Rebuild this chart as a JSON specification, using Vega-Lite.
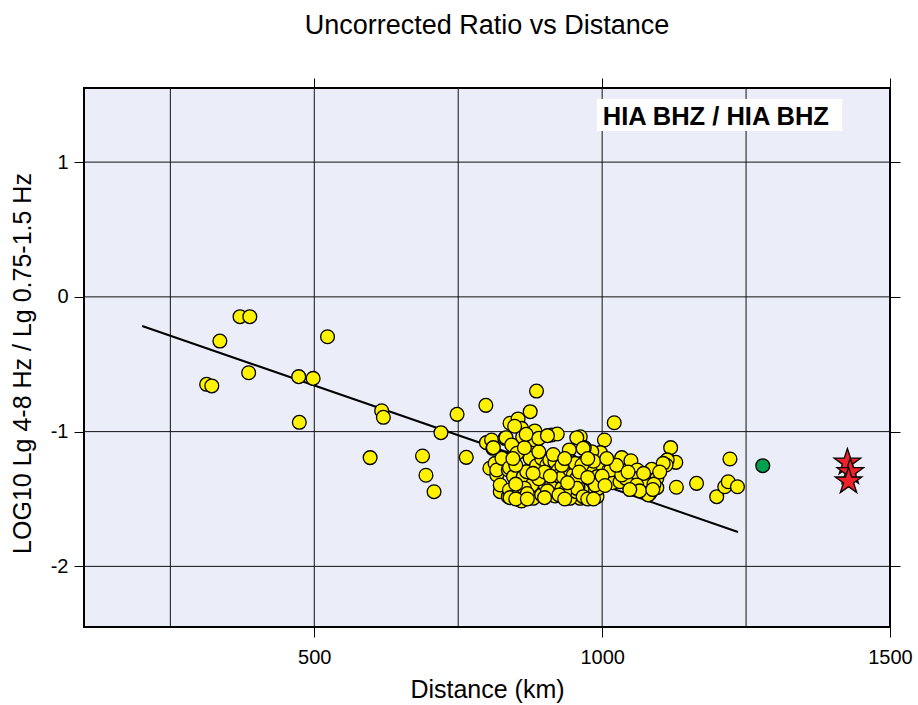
{
  "$schema": "https://vega.github.io/schema/vega-lite/v6.json",
  "width": 806,
  "height": 539,
  "autosize": "none",
  "padding": {"left": 84, "top": 88, "right": 28, "bottom": 78},
  "background": "white",
  "config": {
    "font": "Liberation Sans",
    "view": {"fill": "#EBEEF8", "stroke": "black", "strokeWidth": 2},
    "axis": {"domain": false, "grid": false, "tickColor": "black", "tickWidth": 1, "tickSize": 10, "labelColor": "black", "titleColor": "black", "labelFont": "Liberation Sans", "titleFont": "Liberation Sans", "titleFontWeight": "normal", "labelFontSize": 20, "titleFontSize": 25, "labelExpr": "'' + datum.value"}
  },
  "title": {"text": "Uncorrected Ratio vs Distance", "fontSize": 27, "fontWeight": "normal", "font": "Liberation Sans", "color": "black", "anchor": "middle", "baseline": "alphabetic", "offset": 17},
  "datasets": {
    "gx": [{"v": 250}, {"v": 500}, {"v": 750}, {"v": 1000}, {"v": 1250}],
    "gy": [{"v": -2}, {"v": -1}, {"v": 0}, {"v": 1}],
    "fit": [{"d": 201, "r": -0.216}, {"d": 1236, "r": -1.745}],
    "lab": [{"x1": 991, "x2": 1417, "y1": 1.231, "y2": 1.468, "tx": 1001, "ty": 1.275, "t": "HIA BHZ / HIA BHZ"}],
    "stars": [{"d": 1426, "r": -1.229}, {"d": 1431, "r": -1.30}, {"d": 1428, "r": -1.369}],
    "pts": [
      {"d": 313, "r": -0.649, "g": "y"}, {"d": 322, "r": -0.661, "g": "y"}, {"d": 336, "r": -0.328, "g": "y"}, {"d": 371, "r": -0.147, "g": "y"}, {"d": 388, "r": -0.147, "g": "y"}, {"d": 386, "r": -0.563, "g": "y"}, {"d": 473, "r": -0.592, "g": "y"}, {"d": 474, "r": -0.931, "g": "y"}, {"d": 498, "r": -0.605, "g": "y"}, {"d": 523, "r": -0.296, "g": "y"}, {"d": 597, "r": -1.193, "g": "y"}, {"d": 617, "r": -0.845, "g": "y"}, {"d": 620, "r": -0.894, "g": "y"}, {"d": 688, "r": -1.181, "g": "y"}, {"d": 694, "r": -1.324, "g": "y"}, {"d": 708, "r": -1.446, "g": "y"}, {"d": 720, "r": -1.008, "g": "y"}, {"d": 748, "r": -0.872, "g": "y"}, {"d": 764, "r": -1.191, "g": "y"}, {"d": 798, "r": -0.805, "g": "y"}, {"d": 886, "r": -0.699, "g": "y"},
      {"d": 1021, "r": -0.934, "g": "y"}, {"d": 1119, "r": -1.119, "g": "y"}, {"d": 1128, "r": -1.228, "g": "y"}, {"d": 1113, "r": -1.21, "g": "y"}, {"d": 1111, "r": -1.248, "g": "y"}, {"d": 1106, "r": -1.236, "g": "y"}, {"d": 1222, "r": -1.203, "g": "y"}, {"d": 1129, "r": -1.413, "g": "y"}, {"d": 1164, "r": -1.384, "g": "y"}, {"d": 1199, "r": -1.483, "g": "y"}, {"d": 1213, "r": -1.409, "g": "y"}, {"d": 1219, "r": -1.372, "g": "y"}, {"d": 1235, "r": -1.409, "g": "y"},
      {"d": 1004, "r": -1.062, "g": "y"}, {"d": 1034, "r": -1.193, "g": "y"}, {"d": 1050, "r": -1.216, "g": "y"}, {"d": 1061, "r": -1.285, "g": "y"}, {"d": 1063, "r": -1.347, "g": "y"}, {"d": 1077, "r": -1.36, "g": "y"}, {"d": 1086, "r": -1.28, "g": "y"}, {"d": 1095, "r": -1.347, "g": "y"}, {"d": 1095, "r": -1.416, "g": "y"}, {"d": 1083, "r": -1.458, "g": "y"}, {"d": 1072, "r": -1.31, "g": "y"}, {"d": 1057, "r": -1.409, "g": "y"}, {"d": 1018, "r": -1.379, "g": "y"}, {"d": 1031, "r": -1.372, "g": "y"}, {"d": 1041, "r": -1.347, "g": "y"}, {"d": 997, "r": -1.156, "g": "y"}, {"d": 970, "r": -1.124, "g": "y"}, {"d": 982, "r": -1.149, "g": "y"}, {"d": 982, "r": -1.265, "g": "y"}, {"d": 1002, "r": -1.265, "g": "y"}, {"d": 1012, "r": -1.285, "g": "y"}, {"d": 965, "r": -1.236, "g": "y"}, {"d": 970, "r": -1.384, "g": "y"}, {"d": 979, "r": -1.458, "g": "y"}, {"d": 991, "r": -1.483, "g": "y"}, {"d": 993, "r": -1.421, "g": "y"}, {"d": 965, "r": -1.433, "g": "y"}, {"d": 962, "r": -1.038, "g": "y"}, {"d": 969, "r": -1.119, "g": "y"}, {"d": 1015, "r": -1.285, "g": "y"}, {"d": 1034, "r": -1.322, "g": "y"}, {"d": 1080, "r": -1.47, "g": "y"}, {"d": 1060, "r": -1.396, "g": "y"}, {"d": 991, "r": -1.334, "g": "y"}, {"d": 962, "r": -1.495, "g": "y"}, {"d": 958, "r": -1.409, "g": "y"}, {"d": 988, "r": -1.396, "g": "y"},
      {"d": 799, "r": -1.082, "g": "y"}, {"d": 808, "r": -1.062, "g": "y"}, {"d": 831, "r": -1.05, "g": "y"}, {"d": 810, "r": -1.124, "g": "y"}, {"d": 811, "r": -1.119, "g": "y"}, {"d": 805, "r": -1.272, "g": "y"}, {"d": 814, "r": -1.236, "g": "y"}, {"d": 817, "r": -1.322, "g": "y"}, {"d": 817, "r": -1.285, "g": "y"}, {"d": 823, "r": -1.446, "g": "y"}, {"d": 823, "r": -1.396, "g": "y"}, {"d": 826, "r": -1.198, "g": "y"}, {"d": 833, "r": -1.045, "g": "y"}, {"d": 837, "r": -1.285, "g": "y"}, {"d": 837, "r": -1.483, "g": "y"}, {"d": 839, "r": -1.268, "g": "y"}, {"d": 839, "r": -1.433, "g": "y"}, {"d": 840, "r": -0.938, "g": "y"}, {"d": 840, "r": -1.49, "g": "y"}, {"d": 843, "r": -1.099, "g": "y"}, {"d": 846, "r": -1.334, "g": "y"}, {"d": 852, "r": -1.161, "g": "y"}, {"d": 854, "r": -0.906, "g": "y"}, {"d": 857, "r": -1.446, "g": "y"}, {"d": 857, "r": -1.507, "g": "y"}, {"d": 860, "r": -0.976, "g": "y"}, {"d": 860, "r": -1.515, "g": "y"}, {"d": 862, "r": -1.038, "g": "y"}, {"d": 863, "r": -1.334, "g": "y"}, {"d": 869, "r": -1.297, "g": "y"}, {"d": 875, "r": -0.852, "g": "y"}, {"d": 875, "r": -1.124, "g": "y"}, {"d": 875, "r": -1.198, "g": "y"}, {"d": 878, "r": -1.396, "g": "y"}, {"d": 880, "r": -1.495, "g": "y"}, {"d": 883, "r": -0.995, "g": "y"}, {"d": 883, "r": -1.062, "g": "y"}, {"d": 886, "r": -1.253, "g": "y"}, {"d": 895, "r": -1.198, "g": "y"}, {"d": 895, "r": -1.322, "g": "y"}, {"d": 895, "r": -1.47, "g": "y"}, {"d": 901, "r": -1.396, "g": "y"}, {"d": 904, "r": -1.248, "g": "y"}, {"d": 909, "r": -1.211, "g": "y"}, {"d": 912, "r": -1.025, "g": "y"}, {"d": 912, "r": -1.396, "g": "y"}, {"d": 915, "r": -1.47, "g": "y"}, {"d": 918, "r": -1.223, "g": "y"}, {"d": 918, "r": -1.478, "g": "y"}, {"d": 922, "r": -1.018, "g": "y"}, {"d": 924, "r": -1.285, "g": "y"}, {"d": 924, "r": -1.329, "g": "y"}, {"d": 930, "r": -1.421, "g": "y"}, {"d": 932, "r": -1.334, "g": "y"}, {"d": 943, "r": -1.136, "g": "y"}, {"d": 944, "r": -1.285, "g": "y"}, {"d": 944, "r": -1.446, "g": "y"}, {"d": 944, "r": -1.495, "g": "y"}, {"d": 947, "r": -1.223, "g": "y"}, {"d": 950, "r": -1.322, "g": "y"}, {"d": 953, "r": -1.236, "g": "y"}, {"d": 955, "r": -1.446, "g": "y"}, {"d": 956, "r": -1.045, "g": "y"}, {"d": 956, "r": -1.347, "g": "y"}, {"d": 956, "r": -1.421, "g": "y"}, {"d": 965, "r": -1.248, "g": "y"}, {"d": 967, "r": -1.124, "g": "y"}, {"d": 967, "r": -1.483, "g": "y"},
      {"d": 850, "r": -1.25, "g": "y"}, {"d": 865, "r": -1.42, "g": "y"}, {"d": 890, "r": -1.35, "g": "y"}, {"d": 870, "r": -1.46, "g": "y"}, {"d": 900, "r": -1.3, "g": "y"}, {"d": 930, "r": -1.25, "g": "y"}, {"d": 935, "r": -1.45, "g": "y"}, {"d": 850, "r": -1.39, "g": "y"}, {"d": 905, "r": -1.44, "g": "y"}, {"d": 925, "r": -1.47, "g": "y"}, {"d": 960, "r": -1.3, "g": "y"}, {"d": 975, "r": -1.34, "g": "y"}, {"d": 985, "r": -1.22, "g": "y"}, {"d": 1000, "r": -1.33, "g": "y"}, {"d": 1005, "r": -1.4, "g": "y"}, {"d": 1025, "r": -1.25, "g": "y"}, {"d": 1045, "r": -1.3, "g": "y"}, {"d": 1065, "r": -1.44, "g": "y"}, {"d": 1090, "r": -1.39, "g": "y"}, {"d": 1048, "r": -1.43, "g": "y"}, {"d": 865, "r": -1.12, "g": "y"}, {"d": 890, "r": -1.15, "g": "y"}, {"d": 915, "r": -1.17, "g": "y"}, {"d": 935, "r": -1.2, "g": "y"}, {"d": 845, "r": -1.2, "g": "y"}, {"d": 880, "r": -1.31, "g": "y"}, {"d": 910, "r": -1.33, "g": "y"}, {"d": 940, "r": -1.38, "g": "y"}, {"d": 975, "r": -1.2, "g": "y"}, {"d": 1008, "r": -1.2, "g": "y"}, {"d": 1100, "r": -1.3, "g": "y"}, {"d": 1088, "r": -1.43, "g": "y"}, {"d": 848, "r": -0.96, "g": "y"}, {"d": 868, "r": -1.02, "g": "y"}, {"d": 890, "r": -1.05, "g": "y"}, {"d": 905, "r": -1.03, "g": "y"}, {"d": 850, "r": -1.5, "g": "y"}, {"d": 870, "r": -1.5, "g": "y"}, {"d": 900, "r": -1.49, "g": "y"}, {"d": 935, "r": -1.5, "g": "y"}, {"d": 975, "r": -1.5, "g": "y"}, {"d": 985, "r": -1.5, "g": "y"},
      {"d": 1279, "r": -1.253, "g": "g"}
    ]
  },
  "resolve": {"axis": {"x": "independent", "y": "independent"}},
  "layer": [
    {
      "data": {"name": "gx"},
      "mark": {"type": "rule", "color": "#111111", "strokeWidth": 1},
      "encoding": {
        "x": {"field": "v", "type": "quantitative", "scale": {"domain": [100, 1500], "nice": false, "zero": false},
              "axis": {"orient": "top", "values": [500, 1000, 1500], "labels": false, "title": null}}
      }
    },
    {
      "data": {"name": "gy"},
      "mark": {"type": "rule", "color": "#111111", "strokeWidth": 1},
      "encoding": {
        "y": {"field": "v", "type": "quantitative", "scale": {"domain": [-2.45, 1.55], "nice": false, "zero": false},
              "axis": {"orient": "right", "values": [-2, -1, 0, 1], "labels": false, "title": null}}
      }
    },
    {
      "data": {"name": "lab"},
      "mark": {"type": "rect", "fill": "white"},
      "encoding": {
        "x": {"field": "x1", "type": "quantitative", "axis": null},
        "x2": {"field": "x2"},
        "y": {"field": "y1", "type": "quantitative", "axis": null},
        "y2": {"field": "y2"}
      }
    },
    {
      "data": {"name": "lab"},
      "mark": {"type": "text", "align": "left", "baseline": "alphabetic", "fontSize": 25.5, "fontWeight": "bold", "font": "Liberation Sans", "color": "black"},
      "encoding": {
        "x": {"field": "tx", "type": "quantitative", "axis": null},
        "y": {"field": "ty", "type": "quantitative", "axis": null},
        "text": {"field": "t"}
      }
    },
    {
      "data": {"name": "fit"},
      "mark": {"type": "line", "color": "black", "strokeWidth": 2},
      "encoding": {
        "x": {"field": "d", "type": "quantitative", "axis": null},
        "y": {"field": "r", "type": "quantitative", "axis": null}
      }
    },
    {
      "data": {"name": "pts"},
      "mark": {"type": "circle", "size": 190, "stroke": "black", "strokeWidth": 1.3, "opacity": 1},
      "encoding": {
        "x": {"field": "d", "type": "quantitative",
              "axis": {"orient": "bottom", "values": [500, 1000, 1500], "title": "Distance (km)", "labelBaseline": "alphabetic", "labelPadding": 26, "labelFlush": false, "titleX": 403, "titleY": 70, "titleBaseline": "alphabetic", "titleAlign": "center"}},
        "y": {"field": "r", "type": "quantitative",
              "axis": {"orient": "left", "values": [-2, -1, 0, 1], "title": "LOG10 Lg 4-8 Hz / Lg 0.75-1.5 Hz", "labelPadding": 6, "titleX": -62, "titleY": 275, "titleAngle": -90, "titleBaseline": "middle", "titleAlign": "center"}},
        "color": {"field": "g", "type": "nominal", "scale": {"domain": ["y", "g"], "range": ["#FFF200", "#00A04E"]}, "legend": null}
      }
    },
    {
      "data": {"name": "stars"},
      "mark": {"type": "point", "filled": true, "shape": "M0,-1L0.2245,-0.309L0.951,-0.309L0.363,0.118L0.588,0.809L0,0.382L-0.588,0.809L-0.363,0.118L-0.951,-0.309L-0.2245,-0.309Z", "size": 780, "fill": "#EE2228", "stroke": "black", "strokeWidth": 1.3, "opacity": 1},
      "encoding": {
        "x": {"field": "d", "type": "quantitative", "axis": null},
        "y": {"field": "r", "type": "quantitative", "axis": null}
      }
    }
  ]
}
